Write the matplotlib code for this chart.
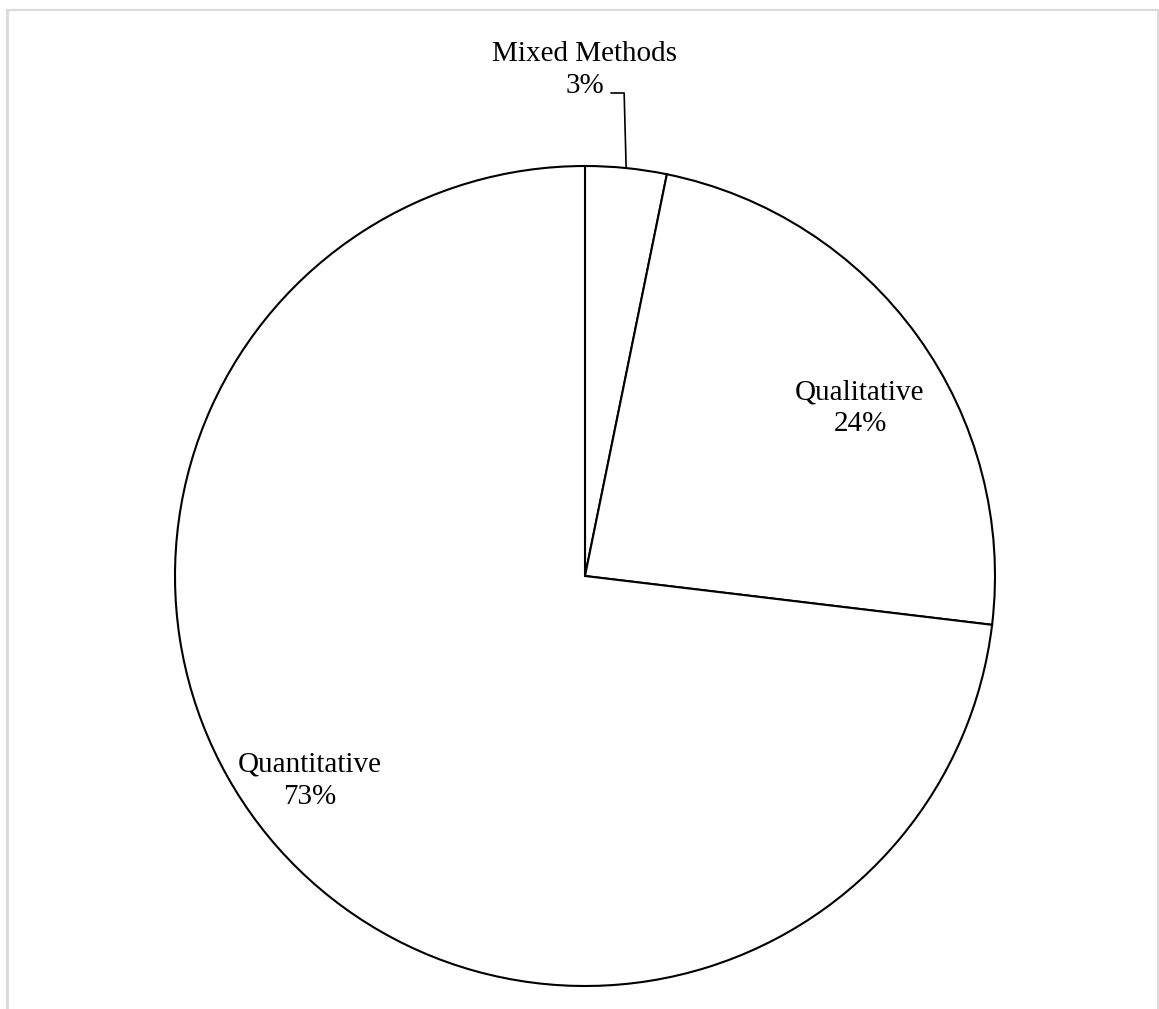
import numpy as np
import matplotlib.pyplot as plt
from matplotlib.lines import Line2D

categories = ["Mixed Methods", "Qualitative", "Quantitative"]
values = [3.2, 23.7, 73.1]
pct_labels = ["3%", "24%", "73%"]

W, H = 1159, 1009
fig = plt.figure(figsize=(W / 100, H / 100), dpi=100)
plt.rcParams['font.family'] = ['Liberation Serif', 'DejaVu Serif']

ax = fig.add_axes([0, 0, 1, 1])
ax.set_xlim(0, W)
ax.set_ylim(0, H)
ax.set_aspect('equal')
ax.axis('off')

cx, cy, r = 585, H - 576, 410
wedges, _ = ax.pie(values, startangle=90, counterclock=False, center=(cx, cy),
                   radius=r, frame=True,
                   wedgeprops=dict(facecolor='white', edgecolor='black', linewidth=1.5))
ax.set_xlim(0, W)
ax.set_ylim(0, H)
ax.axis('off')

fs = 21
ls = 1.3
# Qualitative and Quantitative labels inside slices
ax.text(860, H - 408, f"{categories[1]}\n{pct_labels[1]}", ha='center', va='center',
        fontsize=fs, linespacing=ls)
ax.text(310, H - 781, f"{categories[2]}\n{pct_labels[2]}", ha='center', va='center',
        fontsize=fs, linespacing=ls)

# Mixed methods label outside with leader line
ax.text(585, H - 70, f"{categories[0]}\n{pct_labels[0]}", ha='center', va='center',
        fontsize=fs, linespacing=ls)
w0 = wedges[0]
mid = np.deg2rad((w0.theta1 + w0.theta2) / 2)
ax_, ay_ = cx + r * np.cos(mid), cy + r * np.sin(mid)
ax.plot([ax_, ax_ - 2, ax_ - 15], [ay_, H - 93, H - 93], color='black', lw=1.2)

# light gray frame
frame_color = '#d9d9d9'
fig.add_artist(Line2D([7, 7], [-5, H - 10], transform=None, color=frame_color, lw=2))
fig.add_artist(Line2D([7, W - 1.5], [H - 10, H - 10], transform=None, color=frame_color, lw=1.5))
fig.add_artist(Line2D([W - 1.5, W - 1.5], [-5, H - 10], transform=None, color=frame_color, lw=2))

fig.savefig("out.png", dpi=100)
